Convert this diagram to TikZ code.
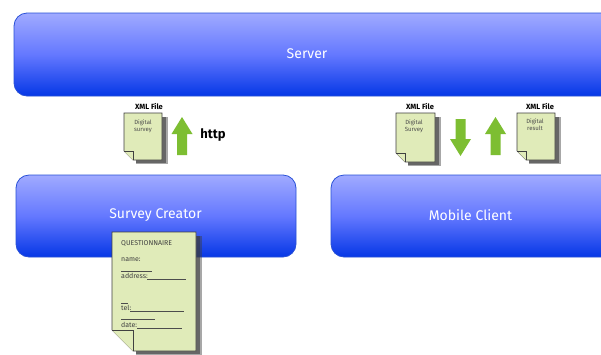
\documentclass[tikz,border=0pt]{standalone}
\usepackage{fontspec}
\setmainfont{Fira Sans}
\usetikzlibrary{shapes.arrows}
\definecolor{boxtop}{RGB}{160,170,255}
\definecolor{boxmid}{RGB}{100,120,255}
\definecolor{boxbot}{RGB}{5,55,230}
\definecolor{boxline}{RGB}{40,80,215}
\definecolor{paper}{RGB}{224,235,185}
\definecolor{arrowgreen}{RGB}{125,190,50}
\definecolor{shadowc}{RGB}{60,60,60}
\tikzset{
  x=1pt,y=-1pt,
  tier/.style={draw=boxline,line width=0.8pt,rounded corners=13pt,top color=boxtop,bottom color=boxbot,middle color=boxmid},
  tierlabel/.style={text=white,font=\fontsize{14}{14}\selectfont},
  upgreen/.style={fill=arrowgreen,draw=none},
  filelabel/.style={font=\fontsize{7.5}{7.5}\selectfont\bfseries,inner sep=0pt},
  doctext/.style={font=\fontsize{6}{7}\selectfont,text=black!70,align=center,inner sep=0pt},
  qtext/.style={font=\fontsize{7}{7}\selectfont,text=black!75,inner sep=0pt,anchor=west},
  docedge/.style={draw=black!75,line width=0.6pt,fill=paper},
  formline/.style={draw=black!70,line width=0.5pt}
}
\newcommand{\docsheet}[5]{% x0,y0,x1,y1,fold
  \fill[shadowc,opacity=.45] (#1+#5+3,#2+4) -- (#3+6,#2+4) -- (#3+6,#4+4) -- (#1+#5+3,#4+4) -- cycle;
  \fill[shadowc,opacity=.6] (#1+#5+3,#2+4) -- (#3+4,#2+4) -- (#3+4,#4+2.5) -- (#1+#5+3,#4+2.5) -- cycle;
  \path[docedge] (#1,#2) -- (#3,#2) -- (#3,#4) -- (#1+#5,#4) -- (#1,#4-#5) -- cycle;
  \draw[docedge] (#1,#4-#5) -- (#1+#5,#4-#5) -- (#1+#5,#4);
}
\newcommand{\uparrowshape}[4]{% xc, ytop, ybottom, name
  \fill[upgreen] (#1-10.5,#2+17) -- (#1,#2) -- (#1+10.5,#2+17) -- (#1+5,#2+17) -- (#1+5,#3) -- (#1-5,#3) -- (#1-5,#2+17) -- cycle;
  \coordinate (#4) at (#1,#2);
}
\newcommand{\downarrowshape}[4]{%
  \fill[upgreen] (#1-10.5,#3-17) -- (#1,#3) -- (#1+10.5,#3-17) -- (#1+5,#3-17) -- (#1+5,#2) -- (#1-5,#2) -- (#1-5,#3-17) -- cycle;
  \coordinate (#4) at (#1,#3);
}
\begin{document}
\begin{tikzpicture}
\path[use as bounding box,fill=white] (0,0) rectangle (601,354);
\begin{scope}
\clip (0,0) rectangle (601,354);
\path[tier] (14,13) rectangle (625,96);
\path[tier] (16,175) rectangle (296,257);
\path[tier] (331,175) rectangle (625,257);
\end{scope}
\node[tierlabel] (server) at (307,54) {Server};
\node[tierlabel] (creator) at (155.5,215) {Survey Creator};
\node[tierlabel] (mobile) at (470.5,215) {Mobile Client};

% left document
\docsheet{124}{113}{162}{160}{9}
\node[filelabel] (xml1) at (149,107) {XML File};
\node[doctext] (doc1) at (143,126) {Digital\\survey};
\uparrowshape{182}{117}{155}{a1}
\node[font=\fontsize{13}{13}\selectfont\bfseries,inner sep=0pt] (http) at (213,135.5) {http};

% middle document
\docsheet{396}{113}{435}{162}{9}
\node[filelabel] (xml2) at (420,107) {XML File};
\node[doctext] (doc2) at (414,126) {Digital\\Survey};
\downarrowshape{460.5}{119}{156}{a2}
\uparrowshape{495.5}{117}{155}{a3}

% right document
\docsheet{517}{113}{555}{160}{9}
\node[filelabel] (xml3) at (540,107) {XML File};
\node[doctext] (doc3) at (535,125) {Digital\\result};

% questionnaire
\docsheet{112}{232}{196}{351}{21}
\node[qtext] (q0) at (121,243) {QUESTIONNAIRE};
\node[qtext] (q1) at (121,259.5) {name:};
\node[qtext] (q2) at (121,276) {address:};
\node[qtext] (q3) at (121,308) {tel:};
\node[qtext] (q4) at (121,325) {date:};
\draw[formline] (121,271) -- (152,271);
\draw[formline] (147,279) -- (186,279);
\draw[formline] (121,303) -- (128,303);
\draw[formline] (130,311) -- (184,311);
\draw[formline] (121,319) -- (155,319);
\draw[formline] (137,328) -- (182,328);
\end{tikzpicture}
\end{document}
